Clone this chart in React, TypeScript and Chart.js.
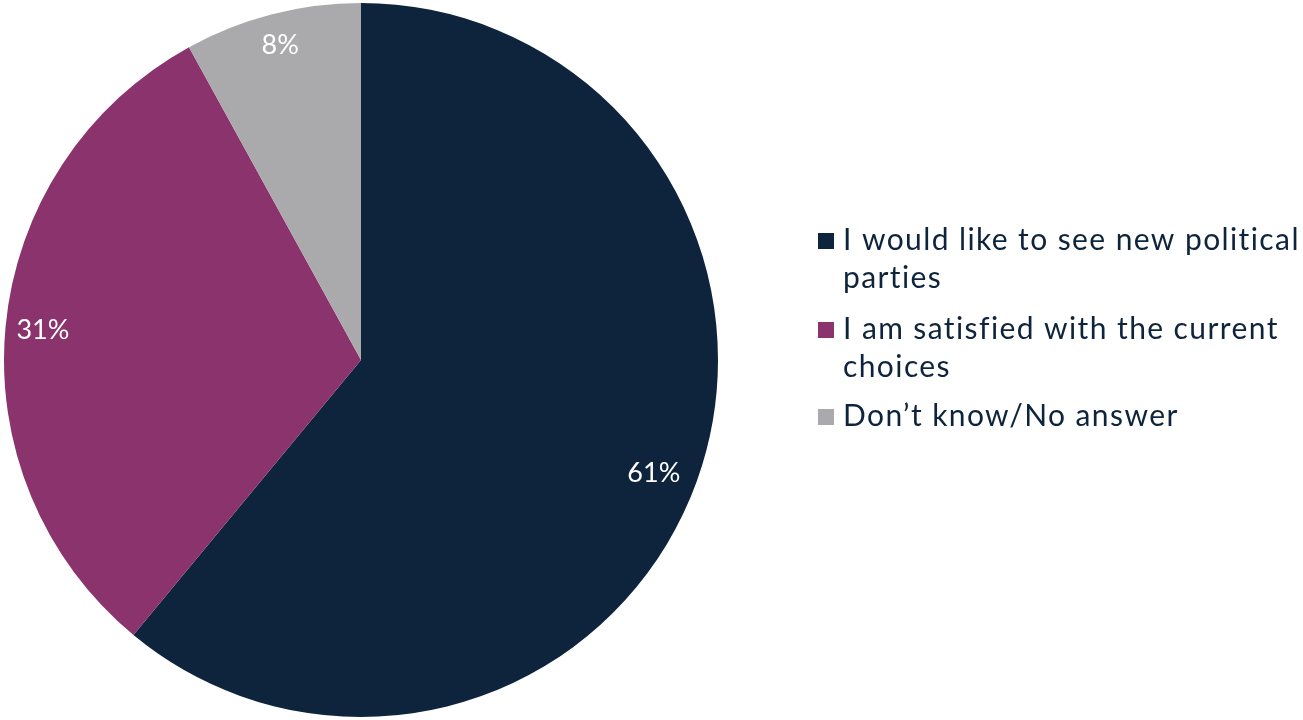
import React, { useEffect, useRef } from "react";
import { Chart, registerables } from "chart.js";

Chart.register(...registerables);

const categories = [
  "I would like to see new political parties",
  "I am satisfied with the current choices",
  "Don’t know/No answer",
];
const legendLines = [
  ["I would like to see new political", "parties"],
  ["I am satisfied with the current", "choices"],
  ["Don’t know/No answer"],
];
const values = [61, 31, 8];
const valueLabels = ["61%", "31%", "8%"];
const colors = ["#0E243D", "#8B336D", "#AAAAAC"];
const labelRadius = [0.88, 0.895, 0.91];

const FONT = "Lato";

const labelPlugin = {
  id: "sliceLabels",
  afterDatasetsDraw(chart: any) {
    const ctx = chart.ctx;
    const meta = chart.getDatasetMeta(0);
    ctx.save();
    ctx.fillStyle = "#FFFFFF";
    ctx.font = `27px ${FONT}`;
    ctx.textAlign = "center";
    ctx.textBaseline = "middle";
    meta.data.forEach((arc: any, i: number) => {
      const p = arc.getProps(["x", "y", "startAngle", "endAngle", "outerRadius"], true);
      const mid = (p.startAngle + p.endAngle) / 2 + (i === 0 ? 0.025 : 0);
      const r = p.outerRadius * labelRadius[i];
      ctx.fillText(valueLabels[i], p.x + Math.cos(mid) * r, p.y + Math.sin(mid) * r);
    });
    ctx.restore();
  },
};

const legendPlugin = {
  id: "sideLegend",
  afterDraw(chart: any) {
    const ctx = chart.ctx;
    ctx.save();
    ctx.font = `30px ${FONT}`;
    (ctx as any).letterSpacing = "1.4px";
    ctx.textAlign = "left";
    ctx.textBaseline = "alphabetic";
    const baselines = [[250, 288], [339, 377], [426]];
    legendLines.forEach((lines, i) => {
      const b0 = baselines[i][0];
      ctx.fillStyle = colors[i];
      ctx.fillRect(818, b0 - 17, 16, 16);
      ctx.fillStyle = "#0E243D";
      lines.forEach((t, j) => ctx.fillText(t, 843, baselines[i][j]));
    });
    ctx.restore();
  },
};

export default function App() {
  const ref = useRef<HTMLCanvasElement>(null);
  useEffect(() => {
    if (!ref.current) return;
    const chart = new Chart(ref.current, {
      type: "pie",
      data: {
        labels: categories,
        datasets: [
          {
            data: values,
            backgroundColor: colors,
            borderWidth: 0,
          },
        ],
      },
      options: {
        animation: false,
        responsive: false,
        maintainAspectRatio: false,
        layout: { padding: { left: 4, top: 3, right: 585, bottom: 3 } },
        plugins: {
          legend: { display: false },
          tooltip: { enabled: false },
        },
      },
      plugins: [labelPlugin, legendPlugin],
    });
    return () => chart.destroy();
  }, []);
  return (
    <div style={{ position: "fixed", left: 0, top: 0, width: 1303, height: 720, background: "#fff" }}>
      <canvas ref={ref} width={1303} height={720} style={{ width: 1303, height: 720 }} />
    </div>
  );
}
